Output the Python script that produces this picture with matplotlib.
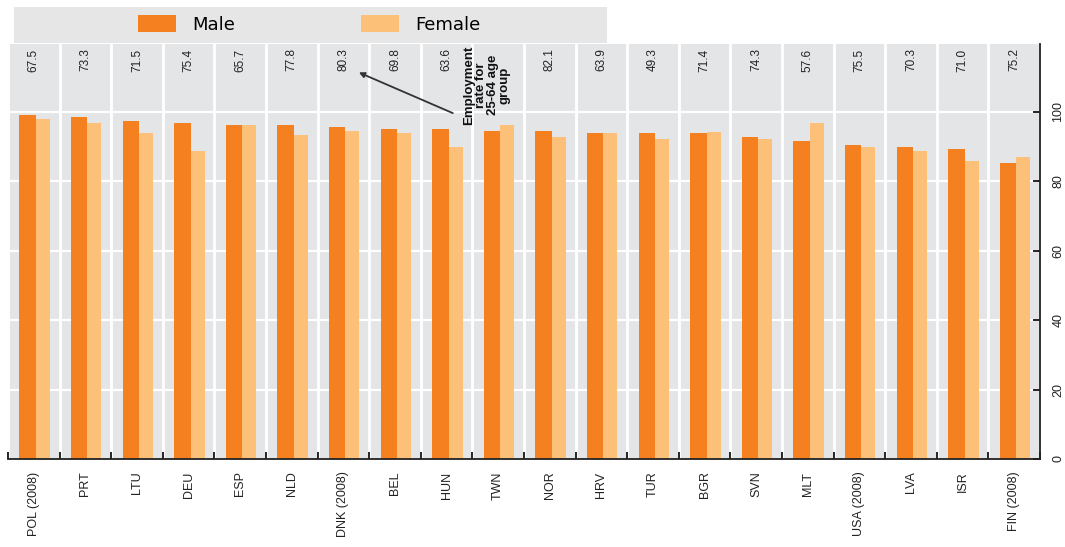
import matplotlib
matplotlib.use("Agg")
import matplotlib.pyplot as plt
from matplotlib import font_manager
from matplotlib.patches import Rectangle, Patch
import numpy as np

countries = ["POL (2008)", "PRT", "LTU", "DEU", "ESP", "NLD", "DNK (2008)", "BEL", "HUN", "TWN",
             "NOR", "HRV", "TUR", "BGR", "SVN", "MLT", "USA (2008)", "LVA", "ISR", "FIN (2008)"]
male = [99.0, 98.6, 97.3, 96.7, 96.2, 96.2, 95.5, 95.0, 95.0, 94.4,
        94.5, 93.8, 93.8, 93.8, 92.7, 91.6, 90.4, 89.8, 89.3, 85.3]
female = [97.9, 96.7, 93.8, 88.8, 96.2, 93.3, 94.4, 93.8, 89.8, 96.2,
          92.7, 93.8, 92.1, 94.3, 92.1, 96.7, 89.8, 88.8, 85.9, 87.0]
# employment rate for the 25-64 age group (none shown for TWN)
employment = [67.5, 73.3, 71.5, 75.4, 65.7, 77.8, 80.3, 69.8, 63.6, None,
              82.1, 63.9, 49.3, 71.4, 74.3, 57.6, 75.5, 70.3, 71.0, 75.2]
yticks = [0, 20, 40, 60, 80, 100]

male_c = "#f4801f"
female_c = "#fdc079"
bg_c = "#e4e5e7"

#pick a narrow font if one is installed, the original labels are condensed
names = {f.name for f in font_manager.fontManager.ttflist}
narrow = next((n for n in ["Liberation Sans Narrow", "DejaVu Sans Condensed"] if n in names),
              "Liberation Sans")

fig = plt.figure(figsize=(10.65, 5.47), dpi=100)
ax = fig.add_axes([8/1065, 1-459/547, (1040-8)/1065, (459-44)/547])
ax.set_facecolor(bg_c)

x = np.arange(len(countries))
ax.bar(x - 0.12, male, width=0.32, color=male_c, zorder=3, label="Male")
ax.bar(x + 0.175, female, width=0.27, color=female_c, zorder=3, label="Female")

ax.set_xlim(-0.5, len(countries) - 0.5)
ax.set_ylim(0, 119.5)

#white grid: horizontal at the y ticks, vertical between country groups
for y in yticks[1:]:
    ax.axhline(y, color="white", lw=1.6, zorder=1)
for b in np.arange(-0.5, len(countries), 1.0):
    ax.axvline(b, color="white", lw=2, zorder=1)

for spine in ["left", "top"]:
    ax.spines[spine].set_visible(False)
for spine in ["right", "bottom"]:
    ax.spines[spine].set_color("#222222")
    ax.spines[spine].set_linewidth(1.3)
    ax.spines[spine].set_zorder(4)

ax.yaxis.tick_right()
ax.set_yticks(yticks)
ax.tick_params(axis="y", direction="in", length=5, width=1.2, pad=9, labelsize=9,
               labelcolor="#222222")
for lab in ax.get_yticklabels():
    lab.set_rotation(90)
    lab.set_va("center")
    lab.set_family(narrow)

ax.set_xticks(x)
ax.set_xticklabels(countries, rotation=90, fontsize=9, family=narrow, color="#222222")
ax.set_xticks(np.arange(-0.5, len(countries), 1.0), minor=True)
ax.tick_params(axis="x", which="major", length=0, pad=9)
ax.tick_params(axis="x", which="minor", direction="in", length=5, width=1.2)

for i, v in enumerate(employment):
    if v is None:
        continue
    ax.text(i, 114.9, f"{v:.1f}", rotation=90, ha="center", va="center",
            fontsize=8.5, family=narrow, color="#222222")

ax.annotate("", xy=(6.3, 111.3), xytext=(8.12, 99.6),
            arrowprops=dict(arrowstyle="-|>", color="#333333", lw=1.3,
                            shrinkA=0, shrinkB=0, mutation_scale=8))
ax.text(8.78, 107.7, "Employment\nrate for\n25-64 age\ngroup", rotation=90,
        ha="center", va="center", multialignment="center", linespacing=1.0,
        fontsize=9.5, fontweight="bold", family="Liberation Sans", color="#111111")

#legend sits on its own grey strip above the chart
fig.patches.append(Rectangle((14/1065, 1-43/547), (607-14)/1065, 36/547,
                             transform=fig.transFigure, facecolor="#e6e6e6",
                             edgecolor="none", zorder=0))
handles = [Patch(facecolor=male_c, edgecolor="none"), Patch(facecolor=female_c, edgecolor="none")]
fig.legend(handles, ["Male", "Female"], loc="center left", bbox_to_anchor=(138/1065, 1-24.5/547),
           ncol=2, frameon=False, borderpad=0, borderaxespad=0,
           handlelength=2.1, handleheight=1.05, handletextpad=0.9, columnspacing=7.0,
           prop={"family": "DejaVu Sans", "size": 13})

fig.savefig("out.png", dpi=100)
